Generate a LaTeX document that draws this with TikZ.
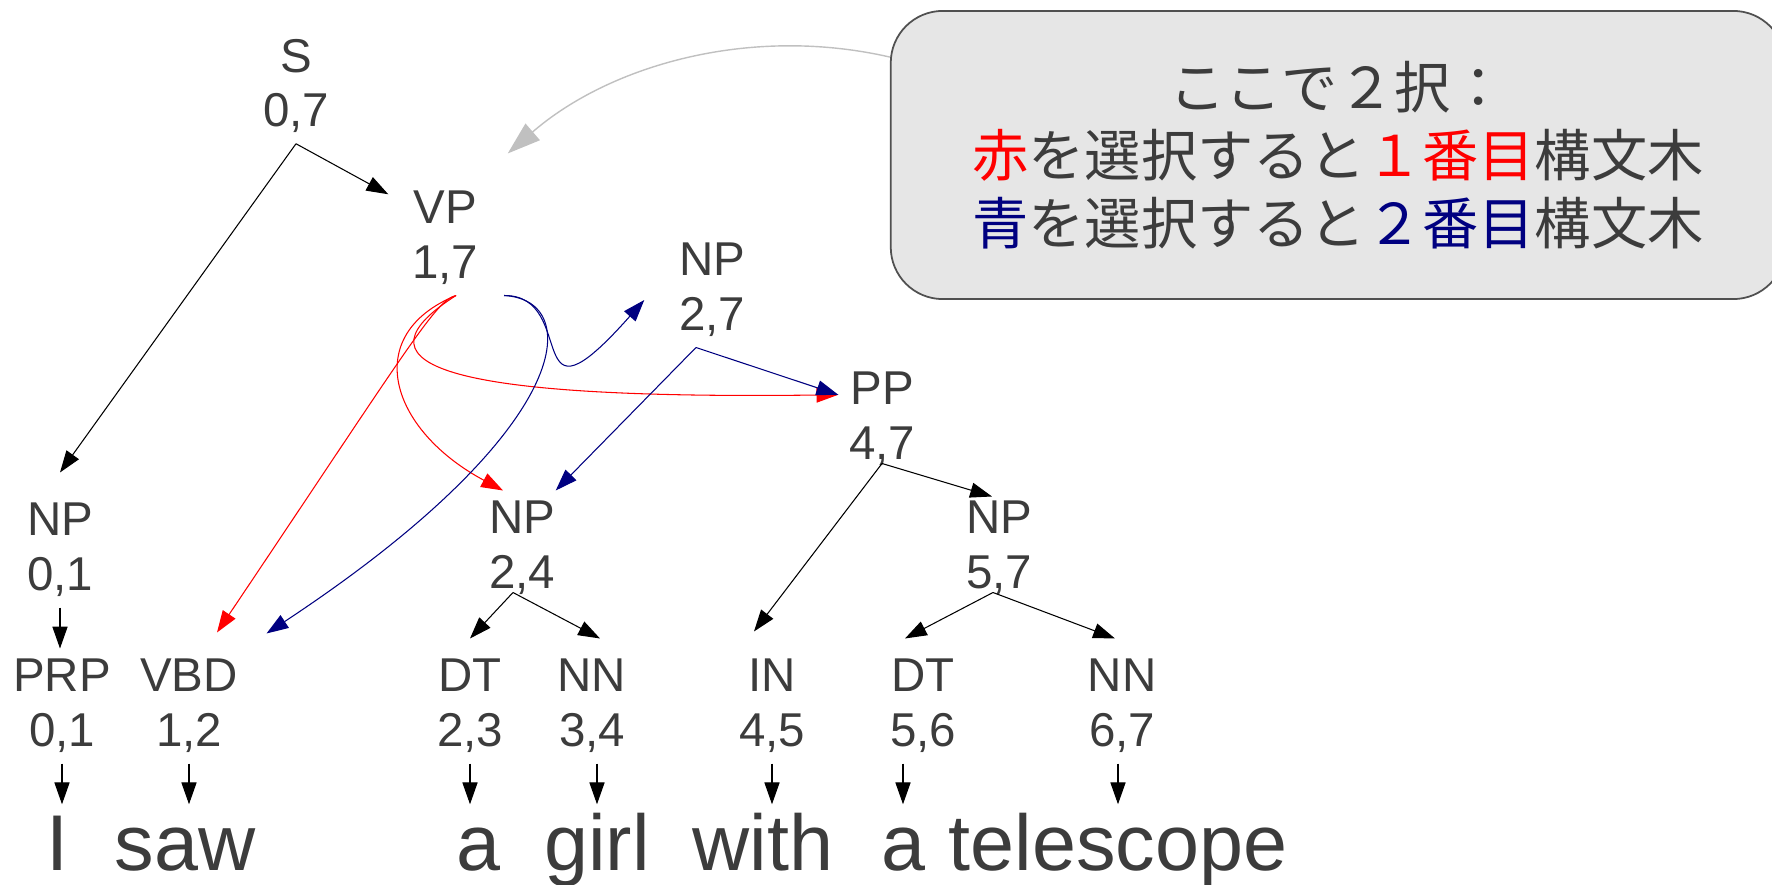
\documentclass[tikz,border=0pt]{standalone}
\usepackage{fontspec}
\setmainfont{Liberation Sans}
\newfontfamily\jpfont{Noto Sans CJK JP}
\usepackage{tikz}
\usetikzlibrary{arrows.meta}
\definecolor{txtgray}{HTML}{3C3C3C}
\definecolor{navy}{HTML}{000080}
\definecolor{boxfill}{HTML}{E6E6E6}
\definecolor{boxline}{HTML}{505050}
\definecolor{hintgray}{HTML}{C0C0C0}

\begin{document}
\begin{tikzpicture}[x=0.01cm, y=-0.01cm,
    lbl/.style={align=center, text=txtgray, inner sep=0.1cm,
      font=\fontsize{13.5}{15.6}\selectfont},
    word/.style={anchor=base, text=txtgray, inner sep=0.1cm,
      text height=0.55cm, text depth=0.12cm, font=\fontsize{22.5}{27}\selectfont},
    notebox/.style={draw=boxline, fill=boxfill, line width=0.5pt,
      rounded corners=0.52cm, minimum width=8.94cm, minimum height=2.88cm,
      align=center, text=txtgray, font=\jpfont\fontsize{16}{19.35}\selectfont},
    treearrow/.style={-{Triangle[length=6.2pt,width=4.3pt]}, line width=0.3pt, black},
    redarrow/.style={treearrow, red},
    bluearrow/.style={treearrow, navy},
    hintarrow/.style={-{Triangle[length=9.4pt,width=6.2pt]}, line width=0.4pt, hintgray}]
      \useasboundingbox (0,0) rectangle (1772,885);

      % 1. 吹き出し
      \node[notebox] (note) at (1338,155) {ここで２択：\\
        {\color{red}赤}を選択すると{\color{red}１番目}構文木\\
        {\color{navy}青}を選択すると{\color{navy}２番目}構文木};

      % 2. 句のラベル
      \node[lbl] (s) at (296,86) {S\\0,7};
      \node[lbl] (vp) at (445,238) {VP\\1,7};
      \node[lbl] (np27) at (712,290) {NP\\2,7};
      \node[lbl] (pp) at (882,419) {PP\\4,7};
      \node[lbl] (np01) at (60,550) {NP\\0,1};
      \node[lbl] (np24) at (522,548) {NP\\2,4};
      \node[lbl] (np57) at (999,548) {NP\\5,7};

      % 3. 品詞のラベル
      \node[lbl] (prp) at (62,706) {PRP\\0,1};
      \node[lbl] (vbd) at (189,706) {VBD\\1,2};
      \node[lbl] (dt23) at (470,706) {DT\\2,3};
      \node[lbl] (nn34) at (592,706) {NN\\3,4};
      \node[lbl] (in45) at (772,706) {IN\\4,5};
      \node[lbl] (dt56) at (923,706) {DT\\5,6};
      \node[lbl] (nn67) at (1122,706) {NN\\6,7};

      % 4. 単語
      \node[word] (wI) at (57,870) {I};
      \node[word] (wsaw) at (185,870) {saw};
      \node[word] (wa) at (478,870) {a};
      \node[word] (wgirl) at (597,870) {girl};
      \node[word] (wwith) at (763,870) {with};
      \node[word] (wa2) at (903,870) {a};
      \node[word] (wtelescope) at (1118,870) {telescope};

      % 5. 共通の枝
      \draw[treearrow] (s.south) -- ([xshift=-0.13cm]vp.135);
      \draw[treearrow] (s.south) -- ([yshift=0.2cm]np01.north);
      \draw[treearrow] (np01.south) -- (np01.south |- prp.north);
      \draw[treearrow] ([xshift=-0.09cm,yshift=0.13cm]np24.south) -- ([yshift=0.1cm]dt23.north);
      \draw[treearrow] ([xshift=-0.09cm,yshift=0.13cm]np24.south) -- ([xshift=0.08cm,yshift=0.1cm]nn34.north);
      \draw[treearrow] ([yshift=0.13cm]pp.south) -- ([xshift=-0.18cm,yshift=0.17cm]in45.north);
      \draw[treearrow] ([yshift=0.13cm]pp.south) -- ([xshift=-0.07cm,yshift=-0.06cm]np57.north);
      \draw[treearrow] ([xshift=-0.06cm,yshift=0.13cm]np57.south) -- ([xshift=-0.18cm,yshift=0.1cm]dt56.north);
      \draw[treearrow] ([xshift=-0.06cm,yshift=0.13cm]np57.south) -- ([xshift=-0.07cm,yshift=0.1cm]nn67.north);
      \foreach \p/\w in {prp/wI, vbd/wsaw, dt23/wa, in45/wwith}
        \draw[treearrow] (\p.south) -- (\p.south |- \w.north);
      \foreach \p/\w in {nn34/wgirl, dt56/wa2, nn67/wtelescope}
        \draw[treearrow] (\w.north |- \p.south) -- (\w.north);

      % 6. 赤：1番目の構文木
      \draw[redarrow] ([xshift=0.11cm]vp.south) .. controls (436,300) and (410,345) .. ([xshift=0.28cm,yshift=0.16cm]vbd.north);
      \draw[redarrow] ([xshift=0.11cm]vp.south) .. controls (360,335) and (390,430) .. ([xshift=-0.19cm]np24.north);
      \draw[redarrow] ([xshift=0.11cm]vp.south) .. controls (355,360) and (420,400) .. (pp.151);

      % 7. 青：2番目の構文木
      \draw[bluearrow] ([xshift=0.59cm]vp.south) .. controls (580,295) and (520,440) .. ([xshift=-0.24cm,yshift=-0.1cm]np27.west);
      \draw[bluearrow] ([xshift=0.59cm]vp.south) .. controls (585,300) and (575,430) .. ([xshift=0.18cm,yshift=0.15cm]vbd.north east);
      \draw[bluearrow] ([xshift=-0.16cm]np27.south) -- ([xshift=-0.1cm]np24.north east);
      \draw[bluearrow] ([xshift=-0.16cm]np27.south) -- (pp.151);

      % 8. 吹き出しから VP へ
      \draw[hintarrow] ([yshift=-0.47cm]note.north west) .. controls (750,25) and (610,65) .. ([xshift=0.19cm,yshift=0.27cm]vp.north east);
    \end{tikzpicture}
\end{document}
